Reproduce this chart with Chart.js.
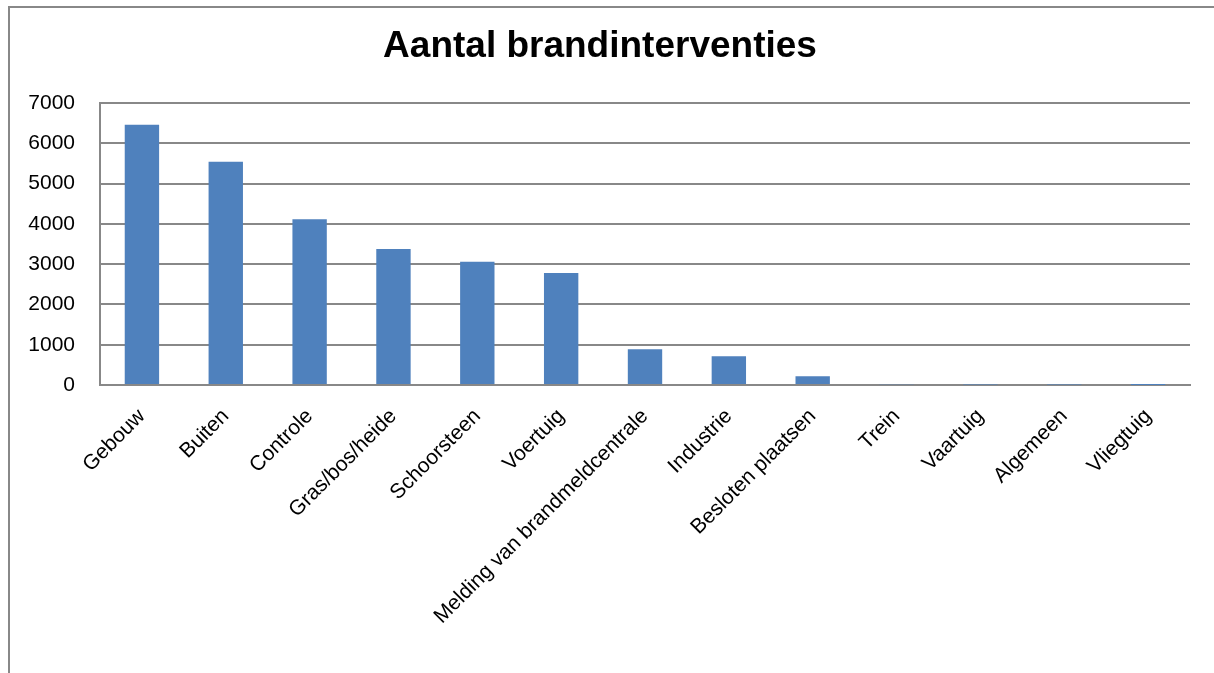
<!DOCTYPE html>
<html>
<head>
<meta charset="utf-8">
<script src="https://cdn.jsdelivr.net/npm/chart.js@4/dist/chart.umd.min.js"></script>
<style>
  html, body { margin: 0; padding: 0; background: #fff; }
  canvas { display: block; }
</style>
</head>
<body>
<canvas id="chart" width="1214" height="673"></canvas>
<script>
const categories = [
  "Gebouw", "Buiten", "Controle", "Gras/bos/heide", "Schoorsteen", "Voertuig",
  "Melding van brandmeldcentrale", "Industrie", "Besloten plaatsen", "Trein",
  "Vaartuig", "Algemeen", "Vliegtuig"
];
const interventies = [6460, 5540, 4115, 3376, 3060, 2779, 888, 714, 216, 20, 15, 15, 3];
const yTicks = [0, 1000, 2000, 3000, 4000, 5000, 6000, 7000];

const FONT = "'Liberation Sans', Arial, sans-serif";

// white background plus the grey frame on the left and top
const framePlugin = {
  id: "frame",
  beforeDraw(chart) {
    const ctx = chart.ctx;
    ctx.save();
    ctx.fillStyle = "#fff";
    ctx.fillRect(0, 0, chart.width, chart.height);
    ctx.strokeStyle = "#888";
    ctx.lineWidth = 2;
    ctx.beginPath();
    ctx.moveTo(9, chart.height);
    ctx.lineTo(9, 7);
    ctx.lineTo(chart.width, 7);
    ctx.stroke();
    ctx.restore();
  },
};

new Chart(document.getElementById("chart").getContext("2d"), {
  type: "bar",
  data: {
    labels: categories,
    datasets: [{
      label: "Aantal brandinterventies",
      data: interventies,
      backgroundColor: "#4F81BD",
      borderWidth: 0,
      barPercentage: 0.41,
      categoryPercentage: 1.0,
    }],
  },
  options: {
    responsive: false,
    animation: false,
    devicePixelRatio: 1,
    layout: { padding: { left: 10, right: 24, top: 0, bottom: 0 } },
    plugins: {
      legend: { display: false },
      tooltip: { enabled: false },
      title: {
        display: true,
        text: "Aantal brandinterventies",
        color: "#000",
        font: { family: FONT, size: 37, weight: "bold" },
        padding: { top: 25, bottom: 33.6 },
      },
    },
    scales: {
      x: {
        grid: { display: false, drawTicks: false },
        border: { display: true, color: "#888", width: 2 },
        ticks: {
          color: "#000",
          font: { family: FONT, size: 21 },
          minRotation: 45,
          maxRotation: 45,
          autoSkip: false,
          padding: 19,
        },
        afterFit(scale) { scale.height = 288; },
      },
      y: {
        min: 0,
        max: 7000,
        afterBuildTicks(scale) { scale.ticks = yTicks.map((v) => ({ value: v })); },
        grid: { color: "#888", lineWidth: 2, drawTicks: false },
        border: { display: true, color: "#888", width: 2 },
        ticks: {
          color: "#000",
          font: { family: FONT, size: 21 },
          padding: 25,
          callback: (v) => String(v),
        },
        afterFit(scale) { scale.width = 90; },
      },
    },
  },
  plugins: [framePlugin],
});
</script>
</body>
</html>
